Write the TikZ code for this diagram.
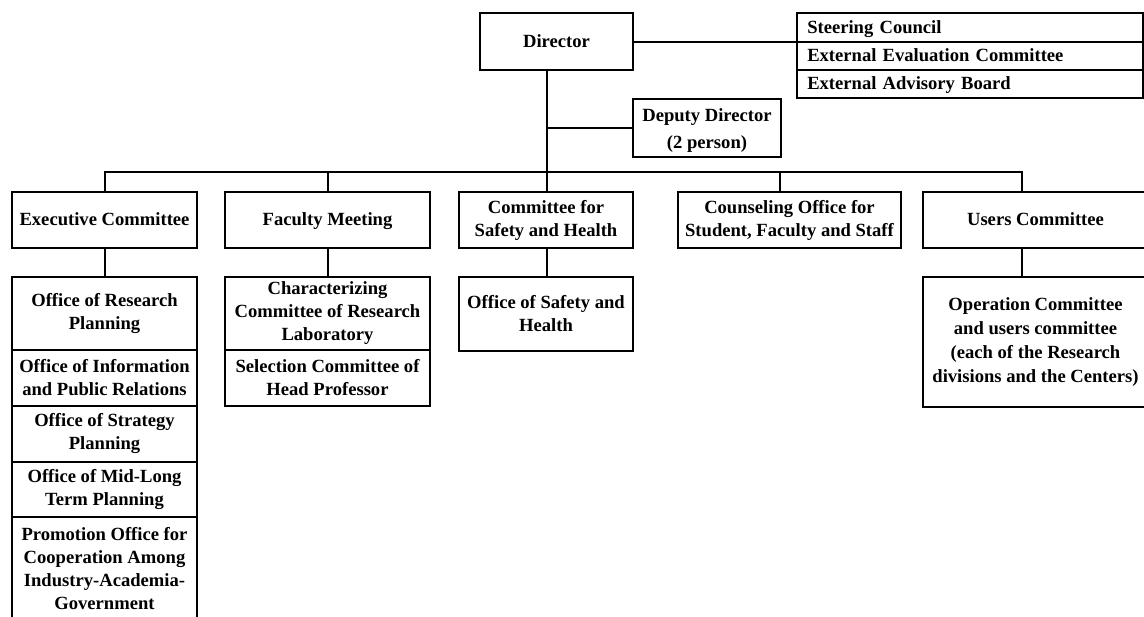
\documentclass[tikz,border=0pt]{standalone}
\usepackage{fontspec}
\setmainfont{Liberation Serif}
\begin{document}
\begin{tikzpicture}[x=1pt,y=-1pt,
  box/.style={draw, line width=2pt, inner sep=0pt, align=center, rectangle,
    font=\fontsize{18.6}{23}\selectfont\bfseries},
  one/.style={text height=16pt, text depth=4pt},
  lbox/.style={box, one, align=left, text width=325pt, inner xsep=10.25pt},
  conn/.style={line width=2pt}]
\clip (0,0) rectangle (1144,617);
% top
\node[box, one, minimum width=153pt, minimum height=57pt] (dir) at (556.5,42) {Director};
\node[lbox, minimum height=29pt] (steer) at (969.75,27.5) {Steering Council};
\node[lbox, minimum height=28pt] (eval) at (969.75,56) {External Evaluation Committee};
\node[lbox, minimum height=28pt] (adv) at (969.75,84) {External Advisory Board};
\node[box, minimum width=148pt, minimum height=58pt] (deputy) at (707,128) {\rule{0pt}{17pt}Deputy Director\\[4pt](2 person)};
% second row
\node[box, one, minimum width=185pt, minimum height=56pt] (exec) at (104.5,220) {Executive Committee};
\node[box, one, minimum width=205pt, minimum height=56pt] (fac) at (327.5,220) {Faculty Meeting};
\node[box, minimum width=174pt, minimum height=56pt] (safety) at (546,220) {Committee for\\Safety and Health};
\node[box, minimum width=223pt, minimum height=56pt] (couns) at (789.5,220) {Counseling Office for\\Student, Faculty and Staff};
\node[box, one, minimum width=225pt, minimum height=56pt] (users) at (1035.5,220) {Users Committee};
% executive column
\node[box, minimum width=185pt, minimum height=73pt] (e1) at (104.5,313.5) {Office of Research\\Planning};
\node[box, minimum width=185pt, minimum height=56pt] (e2) at (104.5,378) {Office of Information\\and Public Relations};
\node[box, minimum width=185pt, minimum height=56pt] (e3) at (104.5,434) {Office of Strategy\\Planning};
\node[box, minimum width=185pt, minimum height=55pt] (e4) at (104.5,489.5) {Office of Mid-Long\\Term Planning};
\node[box, minimum width=185pt, minimum height=104pt] (e5) at (104.5,569) {Promotion Office for\\Cooperation Among\\Industry-Academia-\\Government};
% faculty column
\node[box, minimum width=205pt, minimum height=73pt] (f1) at (327.5,313.5) {Characterizing\\Committee of Research\\Laboratory};
\node[box, minimum width=205pt, minimum height=56pt] (f2) at (327.5,378) {Selection Committee of\\Head Professor};
% safety
\node[box, minimum width=174pt, minimum height=74pt] (osafe) at (546,314) {Office of Safety and\\Health};
% users
\node[box, minimum width=225pt, minimum height=130pt] (opc) at (1035.5,342) {Operation Committee\\[1pt]and users committee\\[1pt](each of the Research\\[1pt]divisions and the Centers)};
% connectors
\coordinate (busR) at (1022,172);
\coordinate (trunk) at (547,172);
\coordinate (cdrop) at (780,172);
\draw[conn] (dir.east) -- (dir.east -| steer.west);
\draw[conn] (dir.south -| trunk) -- (trunk);
\draw[conn] (deputy.west -| trunk) -- (deputy.west);
\draw[conn] (exec.north) -- (exec.north |- busR) -- (busR) -- (busR |- users.north);
\draw[conn] (fac.north) -- (fac.north |- busR);
\draw[conn] (trunk) -- (trunk |- safety.north);
\draw[conn] (cdrop) -- (cdrop |- couns.north);
\draw[conn] (exec.south) -- (e1.north);
\draw[conn] (fac.south) -- (f1.north);
\draw[conn] (safety.south -| trunk) -- (osafe.north -| trunk);
\draw[conn] (users.south -| busR) -- (opc.north -| busR);
\end{tikzpicture}
\end{document}
